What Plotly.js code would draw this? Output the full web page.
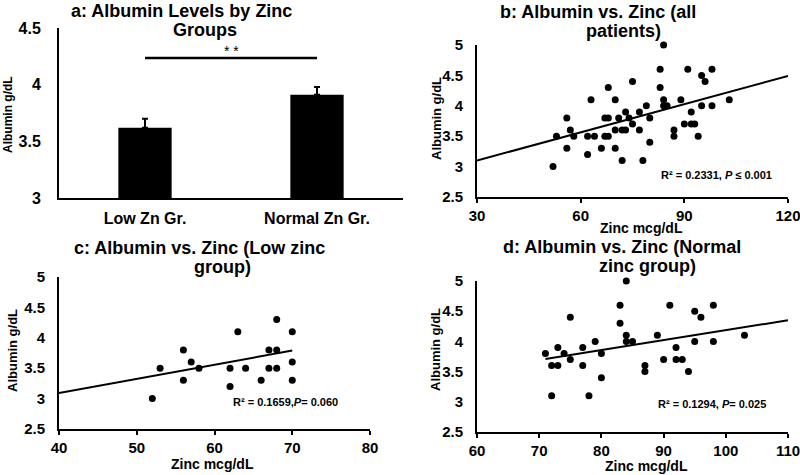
<!DOCTYPE html>
<html>
<head>
<meta charset="utf-8">
<script src="https://cdn.plot.ly/plotly-3.0.1.min.js"></script>
<style>html,body{margin:0;padding:0;background:#fff;}#chart{width:800px;height:475px;}</style>
</head>
<body>
<div id="chart"></div>
<script>
// ---- Data ----
const groups = ['Low Zn Gr.', 'Normal Zn Gr.'];
const meanAlbumin = [3.62, 3.91];
const errAlbuminPlus = [0.08, 0.07];
const errAlbuminMinus = [0, 0];
const sigLineY = [4.235, 4.235];
const sigLabel = '* *';
const sigLabelY = 4.30;

const lowZinc = [52, 53, 56, 56, 57, 58, 62, 62, 63, 64, 66, 67, 67, 68, 68, 68, 70, 70, 70];
const lowAlbumin = [3.0, 3.5, 3.8, 3.3, 3.6, 3.5, 3.5, 3.2, 4.1, 3.5, 3.3, 3.8, 3.5, 4.3, 3.8, 3.5, 4.1, 3.6, 3.3];

const normZinc = [71, 72, 72, 73, 73, 74, 75, 75, 77, 77, 78, 79, 80, 80, 83, 83, 84, 84, 84, 85, 87, 87, 89, 90, 91, 92, 92, 93, 94, 95, 95, 96, 98, 98, 103];
const normAlbumin = [3.8, 3.6, 3.1, 3.9, 3.6, 3.8, 4.4, 3.7, 3.9, 3.6, 3.1, 4.0, 3.8, 3.4, 4.6, 4.3, 5.0, 4.1, 4.0, 4.0, 3.6, 3.5, 4.1, 3.7, 4.6, 3.9, 3.7, 3.7, 3.5, 4.5, 4.0, 4.4, 4.6, 4.0, 4.1];

// all patients = low + normal groups
const allZinc = lowZinc.concat(normZinc);
const allAlbumin = lowAlbumin.concat(normAlbumin);

// trend lines (end points)
const trendAllX = [30, 120], trendAllY = [3.10, 4.49];
const trendLowX = [40, 70], trendLowY = [3.09, 3.79];
const trendNormX = [71, 110], trendNormY = [3.71, 4.35];

const statAll = 'R² = 0.2331, <i>P</i> ≤ 0.001';
const statLow = 'R² = 0.1659,<i>P</i>= 0.060';
const statNorm = 'R² = 0.1294, <i>P</i>= 0.025';

const titles = [
  ['a: Albumin Levels by Zinc', 'Groups'],
  ['b: Albumin vs. Zinc (all', 'patients)'],
  ['c: Albumin vs. Zinc (Low zinc', 'group)'],
  ['d: Albumin vs. Zinc (Normal', 'zinc group)']
];
const yTitle = 'Albumin g/dL';
const xTitle = 'Zinc mcg/dL';

// ---- Layout helpers ----
const W = 800, H = 475;
const fx = p => p / W;
const fy = p => 1 - p / H;
const FAM = 'Liberation Sans, Arial, sans-serif';
const bold = (size) => ({family: FAM, size: size, color: '#000', weight: 700});

const dot = {color: '#000', size: 7};
const trendLine = {color: '#000', width: 2};

const traces = [
  {type: 'bar', x: groups, y: meanAlbumin, xaxis: 'x', yaxis: 'y', width: 0.31,
   marker: {color: '#000'},
   error_y: {type: 'data', symmetric: false, array: errAlbuminPlus, arrayminus: errAlbuminMinus,
             color: '#000', thickness: 2, width: 3}},
  {type: 'scatter', mode: 'lines', x: groups, y: sigLineY, xaxis: 'x', yaxis: 'y',
   line: {color: '#000', width: 2.5}},
  {type: 'scatter', mode: 'markers', x: allZinc, y: allAlbumin, xaxis: 'x2', yaxis: 'y2', marker: dot, cliponaxis: false},
  {type: 'scatter', mode: 'lines', x: trendAllX, y: trendAllY, xaxis: 'x2', yaxis: 'y2', line: trendLine},
  {type: 'scatter', mode: 'markers', x: lowZinc, y: lowAlbumin, xaxis: 'x3', yaxis: 'y3', marker: dot, cliponaxis: false},
  {type: 'scatter', mode: 'lines', x: trendLowX, y: trendLowY, xaxis: 'x3', yaxis: 'y3', line: trendLine},
  {type: 'scatter', mode: 'markers', x: normZinc, y: normAlbumin, xaxis: 'x4', yaxis: 'y4', marker: dot, cliponaxis: false},
  {type: 'scatter', mode: 'lines', x: trendNormX, y: trendNormY, xaxis: 'x4', yaxis: 'y4', line: trendLine}
];

const baseAx = {showline: true, linecolor: '#000', linewidth: 2, showgrid: false, zeroline: false,
  fixedrange: true, ticklabeloverflow: 'allow'};
const xNum = (anchor, dom, range, dtick) => Object.assign({}, baseAx, {
  anchor: anchor, domain: dom, range: range, dtick: dtick, tick0: range[0],
  ticks: 'outside', ticklen: 4, tickwidth: 2, tickcolor: '#000', tickfont: bold(15)});
const yNum = (anchor, dom) => Object.assign({}, baseAx, {
  anchor: anchor, domain: dom, range: [2.5, 5], dtick: 0.5, tick0: 2.5,
  ticks: '', tickfont: bold(15), ticklabelstandoff: 9});

const layout = {
  width: W, height: H, margin: {l: 0, r: 0, t: 0, b: 0},
  paper_bgcolor: '#fff', plot_bgcolor: '#fff', showlegend: false,
  font: {family: FAM, color: '#000'},
  xaxis: Object.assign({}, baseAx, {anchor: 'y', domain: [fx(59), fx(403)], type: 'category',
    range: [-0.5, 1.5], ticks: '', tickfont: bold(16), ticklabelstandoff: 5}),
  yaxis: Object.assign({}, baseAx, {anchor: 'x', domain: [fy(198), fy(28)], range: [3, 4.5],
    dtick: 0.5, tick0: 3, ticks: '', tickfont: bold(16), ticklabelstandoff: 13}),
  xaxis2: xNum('y2', [fx(477), fx(788)], [30, 120], 30),
  yaxis2: yNum('x2', [fy(197), fy(45)]),
  xaxis3: xNum('y3', [fx(59), fx(370)], [40, 80], 10),
  yaxis3: yNum('x3', [fy(429), fy(277)]),
  xaxis4: xNum('y4', [fx(477), fx(788)], [60, 110], 10),
  yaxis4: yNum('x4', [fy(432), fy(281)]),
  annotations: []
};

const ann = (text, x, y, font, extra) => Object.assign({
  text: text, xref: 'paper', yref: 'paper', x: fx(x), y: fy(y),
  xanchor: 'center', yanchor: 'middle', showarrow: false, font: font}, extra || {});

// titles (two lines each)
const titlePos = [[[181, 11], [205, 30]], [[598, 12], [623, 31]], [[199, 248], [222, 267]], [[622, 247], [647, 266]]];
titles.forEach((t, i) => {
  layout.annotations.push(ann(t[0], titlePos[i][0][0], titlePos[i][0][1], bold(18)));
  layout.annotations.push(ann(t[1], titlePos[i][1][0], titlePos[i][1][1], bold(18)));
});
// y axis titles
[[8, 115, 12], [436, 119, 13], [12, 351, 13], [435, 349, 13]].forEach(p => {
  layout.annotations.push(ann(yTitle, p[0], p[1], bold(p[2]), {textangle: -90}));
});
// x axis titles
[[641, 228], [212, 464], [646, 466]].forEach(p => {
  layout.annotations.push(ann(xTitle, p[0], p[1], bold(14)));
});
// stats
layout.annotations.push(ann(statAll, 716, 175, bold(11)));
layout.annotations.push(ann(statLow, 285, 402, bold(11)));
layout.annotations.push(ann(statNorm, 712, 404, bold(11)));
// significance stars
layout.annotations.push({text: sigLabel, xref: 'x', yref: 'y', x: 0.5, y: sigLabelY,
  showarrow: false, font: {family: FAM, size: 14, color: '#000'}, xanchor: 'center', yanchor: 'middle'});

Plotly.newPlot('chart', traces, layout, {staticPlot: true, displayModeBar: false});
</script>
</body>
</html>
